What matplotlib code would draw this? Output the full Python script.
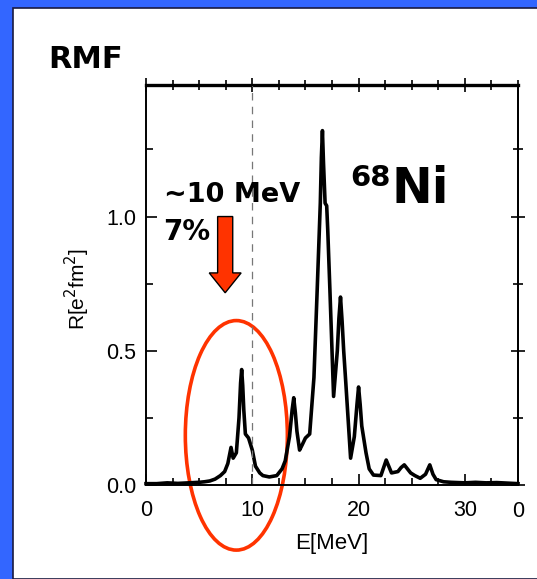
import numpy as np
import matplotlib.pyplot as plt
from matplotlib.patches import Ellipse, Polygon, Rectangle

# response function of 68Ni, RMF calculation
energy = [0, 1, 2, 3, 4, 5, 5.5, 6, 6.5, 7.0, 7.4, 7.7, 8.0, 8.2, 8.5, 8.75,
          8.9, 9.0, 9.1, 9.2, 9.35, 9.65, 10.0, 10.3, 10.7, 11.0, 11.6, 12.3,
          12.8, 13.1, 13.5, 13.75, 13.9, 14.05, 14.2, 14.45, 14.7, 15.0, 15.4,
          15.8, 16.1, 16.4, 16.5, 16.6, 16.7, 16.85, 17.0, 17.1, 17.3, 17.65,
          18.0, 18.15, 18.3, 18.45, 18.6, 18.8, 19.25, 19.6, 19.85, 20.0, 20.15,
          20.3, 20.7, 21.0, 21.4, 22.1, 22.6, 23.1, 23.7, 24.0, 24.3, 24.6,
          24.9, 25.3, 25.8, 26.3, 26.7, 27.0, 27.3, 28.0, 28.7, 30, 31, 32, 33,
          34, 35]
strength = [0.005, 0.005, 0.008, 0.006, 0.008, 0.01, 0.012, 0.015, 0.022,
            0.035, 0.05, 0.08, 0.14, 0.10, 0.12, 0.25, 0.38, 0.43, 0.37, 0.28,
            0.19, 0.175, 0.13, 0.07, 0.045, 0.035, 0.03, 0.035, 0.06, 0.09,
            0.18, 0.28, 0.325, 0.27, 0.2, 0.13, 0.15, 0.175, 0.19, 0.40, 0.72,
            1.05, 1.22, 1.32, 1.2, 1.05, 1.04, 0.95, 0.73, 0.33, 0.50, 0.62,
            0.70, 0.61, 0.50, 0.38, 0.10, 0.18, 0.30, 0.365, 0.30, 0.22, 0.12,
            0.06, 0.037, 0.035, 0.093, 0.045, 0.05, 0.065, 0.075, 0.06, 0.045,
            0.035, 0.025, 0.04, 0.075, 0.04, 0.02, 0.012, 0.01, 0.008, 0.01,
            0.008, 0.009, 0.007, 0.005]

xticks = [0, 10, 20, 30]
yticks = [0.0, 0.5, 1.0]
e_mark = 10          # dashed guide
pdr_peak = 9.0       # low-lying strength

W, H = 537, 579
fig = plt.figure(figsize=(W / 100, H / 100), dpi=100)
fig.patch.set_facecolor('#3366ff')
# white slide panel
fig.patches.append(Rectangle((13 / W, 0), 1.0, 1 - 8 / H, transform=fig.transFigure,
                             facecolor='white', edgecolor='#1a1a40', lw=1.2, zorder=-5))

sans = ['Liberation Sans', 'DejaVu Sans']
xminor = np.arange(0, 35.1, 2.5)
yminor = np.arange(0, 1.49, 0.25)

ax = fig.add_axes([146 / W, 94 / H, 372 / W, 400 / H])
ax.plot(energy, strength, color='black', lw=2.6, solid_joinstyle='round', clip_on=False)
ax.axvline(e_mark, color='#777777', lw=0.9, ls=(0, (6, 5)))

ax.set_xlim(0, 35)
ax.set_ylim(0, 1.49)
ax.set_xticks(xticks)
ax.set_xticks(xminor, minor=True)
ax.set_yticks(yticks)
ax.set_yticks(yminor, minor=True)
ax.set_yticklabels([f'{v:.1f}' for v in yticks])
for s in ax.spines.values():
    s.set_linewidth(1.4)
ax.tick_params(which='both', direction='in', top=False, right=False, width=1.2)
ax.tick_params(which='major', length=8)
ax.tick_params(which='minor', length=5)
ax.tick_params(axis='y', pad=7)
ax.tick_params(axis='x', pad=11)
ax.tick_params(axis='both', labelsize=15.5)
for lab in ax.get_xticklabels() + ax.get_yticklabels():
    lab.set_family(sans)

# top and right axes carry crossing ticks
top = ax.secondary_xaxis('top')
top.set_xticks(xticks)
top.set_xticks(xminor, minor=True)
top.spines['top'].set_linewidth(2.4)
right = ax.secondary_yaxis('right')
right.set_yticks(yticks)
right.set_yticks(yminor, minor=True)
right.spines['right'].set_linewidth(1.4)
for sec in (top, right):
    sec.tick_params(which='both', direction='inout', width=1.2,
                    labeltop=False, labelright=False)
    sec.tick_params(which='major', length=10)
    sec.tick_params(which='minor', length=7)

ax.set_xlabel('E[MeV]', fontsize=16, family=sans)
ax.xaxis.set_label_coords(0.5, -0.12)
ax.set_ylabel(r'R[e$^2$fm$^2$]', fontsize=15, family=sans)
ax.yaxis.set_label_coords(-0.145, 0.49)

# tick label of the neighbouring panel
ax.text(35, -0.04, '0', transform=ax.get_xaxis_transform(), ha='center', va='top',
        fontsize=15.5, family=sans)

# red arrow pointing at the low-lying peak
ax_x, tip = 7.45, 0.716
body, head = 0.71, 1.5
arrow = Polygon([(ax_x - body, 1.0), (ax_x + body, 1.0), (ax_x + body, 0.79),
                 (ax_x + head, 0.79), (ax_x, tip), (ax_x - head, 0.79),
                 (ax_x - body, 0.79)],
                closed=True, facecolor='#ff3300', edgecolor='black', lw=1.0, clip_on=False)
ax.add_patch(arrow)
ax.add_patch(Ellipse((pdr_peak - 0.5, 0.185), 9.6, 0.855, fill=False,
                     edgecolor='#ff3300', lw=2.6, clip_on=False))

fig.text(48 / W, 1 - 68 / H, 'RMF', fontsize=22, fontweight='bold', va='baseline')
fig.text(164 / W, 1 - 202 / H, '~10 MeV', fontsize=19.5, fontweight='bold', va='baseline')
fig.text(163 / W, 1 - 240 / H, '7%', fontsize=20, fontweight='bold', va='baseline')
fig.text(350 / W, 1 - 186 / H, '68', fontsize=21, fontweight='bold', va='baseline')
fig.text(391 / W, 1 - 203 / H, 'Ni', fontsize=35, fontweight='bold', va='baseline')

fig.savefig('out.png', dpi=100, facecolor=fig.get_facecolor())
